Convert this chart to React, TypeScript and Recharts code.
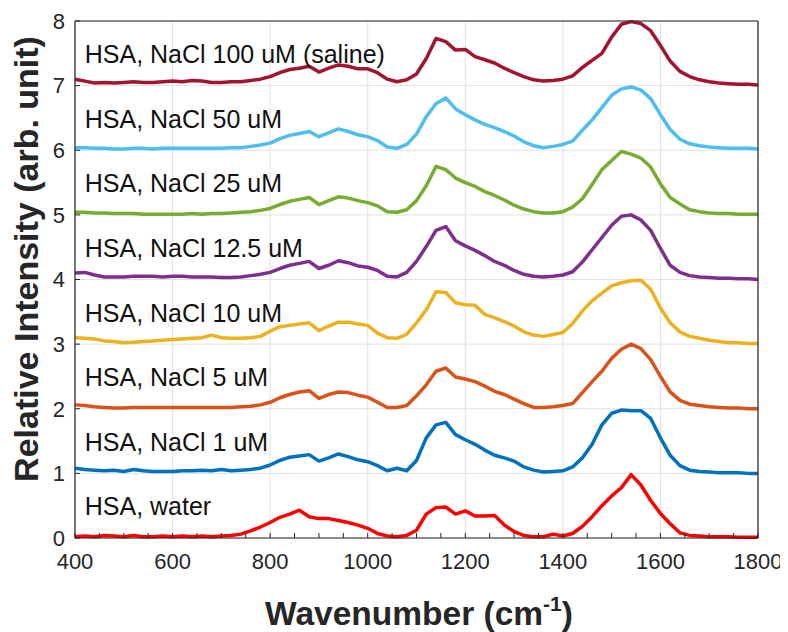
import { CartesianGrid, Label, Line, LineChart, ReferenceDot, XAxis, YAxis } from 'recharts';

// Raman spectra of HSA at increasing NaCl concentration, each trace offset by 1.

const wavenumber = [
  400, 420, 440, 460, 480, 500, 520, 540, 560, 580,
  600, 620, 640, 660, 680, 700, 720, 740, 760, 780,
  800, 820, 840, 860, 880, 900, 920, 940, 960, 980,
  1000, 1020, 1040, 1060, 1080, 1100, 1120, 1140, 1160, 1180,
  1200, 1220, 1240, 1260, 1280, 1300, 1320, 1340, 1360, 1380,
  1400, 1420, 1440, 1460, 1480, 1500, 1520, 1540, 1560, 1580,
  1600, 1620, 1640, 1660, 1680, 1700, 1720, 1740, 1760, 1780,
  1800,
];

const water = [
  0.02, 0.03, 0.02, 0.04, 0.03, 0.02, 0.04, 0.02, 0.02, 0.03,
  0.02, 0.03, 0.02, 0.03, 0.02, 0.03, 0.04, 0.06, 0.11, 0.17,
  0.24, 0.32, 0.37, 0.43, 0.33, 0.30, 0.30, 0.27, 0.24, 0.20,
  0.15, 0.07, 0.03, 0.02, 0.04, 0.12, 0.37, 0.47, 0.48, 0.37,
  0.42, 0.34, 0.34, 0.35, 0.20, 0.10, 0.04, 0.02, 0.02, 0.06,
  0.03, 0.07, 0.18, 0.33, 0.50, 0.65, 0.78, 0.98, 0.82, 0.58,
  0.38, 0.22, 0.08, 0.04, 0.03, 0.02, 0.02, 0.02, 0.01, 0.01,
  0.01,
];

const nacl1 = [
  1.08, 1.06, 1.05, 1.04, 1.05, 1.03, 1.06, 1.04, 1.03, 1.03,
  1.03, 1.04, 1.04, 1.05, 1.04, 1.06, 1.04, 1.05, 1.06, 1.08,
  1.13, 1.20, 1.25, 1.27, 1.29, 1.19, 1.24, 1.30, 1.26, 1.21,
  1.18, 1.12, 1.04, 1.08, 1.04, 1.20, 1.55, 1.75, 1.79, 1.60,
  1.52, 1.45, 1.36, 1.28, 1.24, 1.19, 1.10, 1.05, 1.02, 1.03,
  1.04, 1.10, 1.24, 1.45, 1.75, 1.93, 1.98, 1.97, 1.97, 1.85,
  1.55, 1.28, 1.12, 1.05, 1.03, 1.02, 1.01, 1.01, 1.01, 1.00,
  1.00,
];

const nacl5 = [
  2.06, 2.05, 2.03, 2.02, 2.01, 2.01, 2.02, 2.02, 2.02, 2.02,
  2.02, 2.02, 2.02, 2.02, 2.02, 2.02, 2.02, 2.03, 2.04, 2.06,
  2.10, 2.17, 2.22, 2.26, 2.28, 2.16, 2.22, 2.26, 2.25, 2.21,
  2.18, 2.10, 2.02, 2.02, 2.05, 2.20, 2.37, 2.58, 2.63, 2.49,
  2.46, 2.42, 2.35, 2.27, 2.22, 2.15, 2.08, 2.02, 2.02, 2.03,
  2.05, 2.08, 2.25, 2.42, 2.58, 2.78, 2.92, 3.00, 2.93, 2.76,
  2.50, 2.26, 2.13, 2.07, 2.05, 2.03, 2.02, 2.01, 2.01, 2.00,
  2.00,
];

const nacl10 = [
  3.10, 3.09, 3.08, 3.05, 3.04, 3.02, 3.03, 3.04, 3.05, 3.06,
  3.07, 3.08, 3.09, 3.10, 3.14, 3.10, 3.09, 3.09, 3.10, 3.12,
  3.20, 3.27, 3.29, 3.31, 3.33, 3.21, 3.28, 3.34, 3.34, 3.31,
  3.29, 3.17, 3.10, 3.09, 3.15, 3.33, 3.53, 3.81, 3.80, 3.64,
  3.61, 3.60, 3.46, 3.41, 3.35, 3.28, 3.19, 3.14, 3.12, 3.15,
  3.18, 3.32, 3.51, 3.67, 3.79, 3.90, 3.95, 3.98, 3.99, 3.85,
  3.56, 3.33, 3.19, 3.12, 3.09, 3.06, 3.04, 3.02, 3.02, 3.01,
  3.01,
];

const nacl12_5 = [
  4.10, 4.11, 4.07, 4.04, 4.04, 4.04, 4.05, 4.05, 4.05, 4.04,
  4.05, 4.05, 4.04, 4.04, 4.04, 4.03, 4.03, 4.04, 4.06, 4.08,
  4.11, 4.17, 4.22, 4.25, 4.28, 4.17, 4.22, 4.29, 4.26, 4.21,
  4.19, 4.14, 4.05, 4.04, 4.11, 4.28, 4.51, 4.76, 4.82, 4.60,
  4.52, 4.45, 4.37, 4.28, 4.22, 4.14, 4.08, 4.05, 4.04, 4.05,
  4.07, 4.12, 4.27, 4.46, 4.65, 4.84, 4.98, 5.00, 4.92, 4.76,
  4.48, 4.22, 4.11, 4.06, 4.04, 4.03, 4.02, 4.02, 4.01, 4.01,
  4.00,
];

const nacl25 = [
  5.04, 5.04, 5.03, 5.03, 5.02, 5.02, 5.02, 5.01, 5.01, 5.01,
  5.01, 5.01, 5.02, 5.01, 5.02, 5.02, 5.03, 5.04, 5.05, 5.07,
  5.10, 5.16, 5.21, 5.24, 5.27, 5.16, 5.22, 5.28, 5.26, 5.22,
  5.19, 5.14, 5.05, 5.04, 5.08, 5.22, 5.45, 5.75, 5.70, 5.57,
  5.50, 5.44, 5.36, 5.30, 5.23, 5.15, 5.09, 5.05, 5.03, 5.03,
  5.05, 5.12, 5.25, 5.47, 5.70, 5.84, 5.98, 5.94, 5.88, 5.74,
  5.48, 5.27, 5.17, 5.08, 5.05, 5.03, 5.02, 5.02, 5.01, 5.01,
  5.01,
];

const nacl50 = [
  6.04, 6.04, 6.03, 6.03, 6.02, 6.02, 6.03, 6.03, 6.02, 6.03,
  6.03, 6.03, 6.03, 6.03, 6.03, 6.03, 6.04, 6.04, 6.06, 6.08,
  6.11, 6.18, 6.23, 6.26, 6.29, 6.21, 6.27, 6.33, 6.29, 6.24,
  6.21, 6.15, 6.05, 6.03, 6.09, 6.25, 6.52, 6.72, 6.81, 6.64,
  6.55, 6.47, 6.40, 6.35, 6.29, 6.22, 6.13, 6.07, 6.04, 6.06,
  6.09, 6.14, 6.31, 6.47, 6.66, 6.85, 6.95, 6.98, 6.93, 6.80,
  6.55, 6.32, 6.17, 6.10, 6.07, 6.05, 6.04, 6.03, 6.03, 6.03,
  6.02,
];

const nacl100 = [
  7.10, 7.07, 7.04, 7.05, 7.04, 7.05, 7.06, 7.05, 7.05, 7.06,
  7.07, 7.06, 7.08, 7.07, 7.05, 7.05, 7.06, 7.06, 7.08, 7.10,
  7.14, 7.20, 7.25, 7.27, 7.30, 7.21, 7.27, 7.32, 7.30, 7.26,
  7.26, 7.20, 7.10, 7.06, 7.09, 7.18, 7.42, 7.73, 7.68, 7.55,
  7.56, 7.45, 7.40, 7.35, 7.27, 7.20, 7.14, 7.09, 7.07, 7.08,
  7.10, 7.15, 7.28, 7.39, 7.50, 7.75, 7.95, 7.99, 7.96, 7.85,
  7.62, 7.38, 7.22, 7.14, 7.09, 7.06, 7.04, 7.03, 7.02, 7.02,
  7.01,
];

const seriesNames = [
  'HSA, water',
  'HSA, NaCl 1 uM',
  'HSA, NaCl 5 uM',
  'HSA, NaCl 10 uM',
  'HSA, NaCl 12.5 uM',
  'HSA, NaCl 25 uM',
  'HSA, NaCl 50 uM',
  'HSA, NaCl 100 uM (saline)',
];
const seriesValues = [water, nacl1, nacl5, nacl10, nacl12_5, nacl25, nacl50, nacl100];
const seriesColors = ['#FF0000', '#0072BD', '#D95319', '#EDB120', '#7E2F8E', '#77AC30', '#4DBEEE', '#A2142F'];

const xMajorTicks = [400, 600, 800, 1000, 1200, 1400, 1600, 1800];
const xMinorTicks = [
  400, 450, 500, 550, 600, 650, 700, 750, 800, 850, 900, 950, 1000, 1050, 1100,
  1150, 1200, 1250, 1300, 1350, 1400, 1450, 1500, 1550, 1600, 1650, 1700, 1750, 1800,
];
const yTicks = [0, 1, 2, 3, 4, 5, 6, 7, 8];

// where each trace's caption sits (data units)
const captionX = 420;
const captionLift = 0.35;

const AXIS = '#262626';
const FONT = '"Liberation Sans", Arial, Helvetica, sans-serif';

const rows = wavenumber.map((wn, i) => {
  const row: Record<string, number> = { wn };
  seriesValues.forEach((vals, s) => {
    row[`s${s}`] = vals[i];
  });
  return row;
});

export default function App() {
  return (
    <div style={{ width: 780, height: 624, fontFamily: FONT }}>
      <LineChart
        width={780}
        height={624}
        data={rows}
        margin={{ top: 12, right: 29, bottom: 34, left: 0 }}
      >
        <CartesianGrid
          verticalValues={xMajorTicks}
          horizontalValues={yTicks}
          stroke="#e1e1e1"
          strokeWidth={1}
        />
        <XAxis
          dataKey="wn"
          type="number"
          domain={[400, 1800]}
          ticks={xMinorTicks}
          interval={0}
          tickFormatter={(v: number) => (v % 200 === 0 ? String(v) : '')}
          tickSize={-5}
          tickMargin={20}
          height={60}
          axisLine={{ stroke: AXIS, strokeWidth: 1.2 }}
          tickLine={{ stroke: AXIS }}
          tick={{ fill: AXIS, fontSize: 22 }}
        >
          <Label
            content={() => (
              <text x={411} y={617} textAnchor="middle" fontSize={33.5} fontWeight="bold" fill={AXIS}>
                Wavenumber (cm
                <tspan dy={-14} fontSize={21}>-1</tspan>
                <tspan dy={14}>)</tspan>
              </text>
            )}
          />
        </XAxis>
        <XAxis
          xAxisId="top"
          orientation="top"
          type="number"
          domain={[400, 1800]}
          ticks={xMinorTicks}
          interval={0}
          tick={false}
          tickSize={-5}
          height={1}
          axisLine={{ stroke: AXIS, strokeWidth: 1.2 }}
          tickLine={{ stroke: AXIS }}
        />
        <YAxis
          type="number"
          domain={[0, 8]}
          ticks={yTicks}
          interval={0}
          tickSize={-5}
          tickMargin={15}
          width={67}
          axisLine={{ stroke: AXIS, strokeWidth: 1.2 }}
          tickLine={{ stroke: AXIS }}
          tick={{ fill: AXIS, fontSize: 22 }}
        >
          <Label
            content={() => (
              <text
                transform="translate(30, 251) rotate(-90)"
                textAnchor="middle"
                fontSize={34}
                fontWeight="bold"
                fill={AXIS}
              >
                Relative Intensity (arb. unit)
              </text>
            )}
          />
        </YAxis>
        <YAxis
          yAxisId="right"
          orientation="right"
          type="number"
          domain={[0, 8]}
          ticks={yTicks}
          interval={0}
          tick={false}
          tickSize={-5}
          width={1}
          axisLine={{ stroke: AXIS, strokeWidth: 1.2 }}
          tickLine={{ stroke: AXIS }}
        />
        {seriesNames.map((name, s) => (
          <Line
            key={name}
            type="linear"
            dataKey={`s${s}`}
            name={name}
            stroke={seriesColors[s]}
            strokeWidth={3.5}
            strokeLinejoin="round"
            dot={false}
            activeDot={false}
            isAnimationActive={false}
          />
        ))}
        {seriesNames.map((name, s) => (
          <ReferenceDot
            key={`cap-${name}`}
            x={captionX}
            y={s + captionLift}
            r={0}
            shape={(p: { cx?: number; cy?: number }) => (
              <text x={p.cx} y={p.cy} fontSize={25} fill="#111">
                {name}
              </text>
            )}
          />
        ))}
      </LineChart>
    </div>
  );
}
